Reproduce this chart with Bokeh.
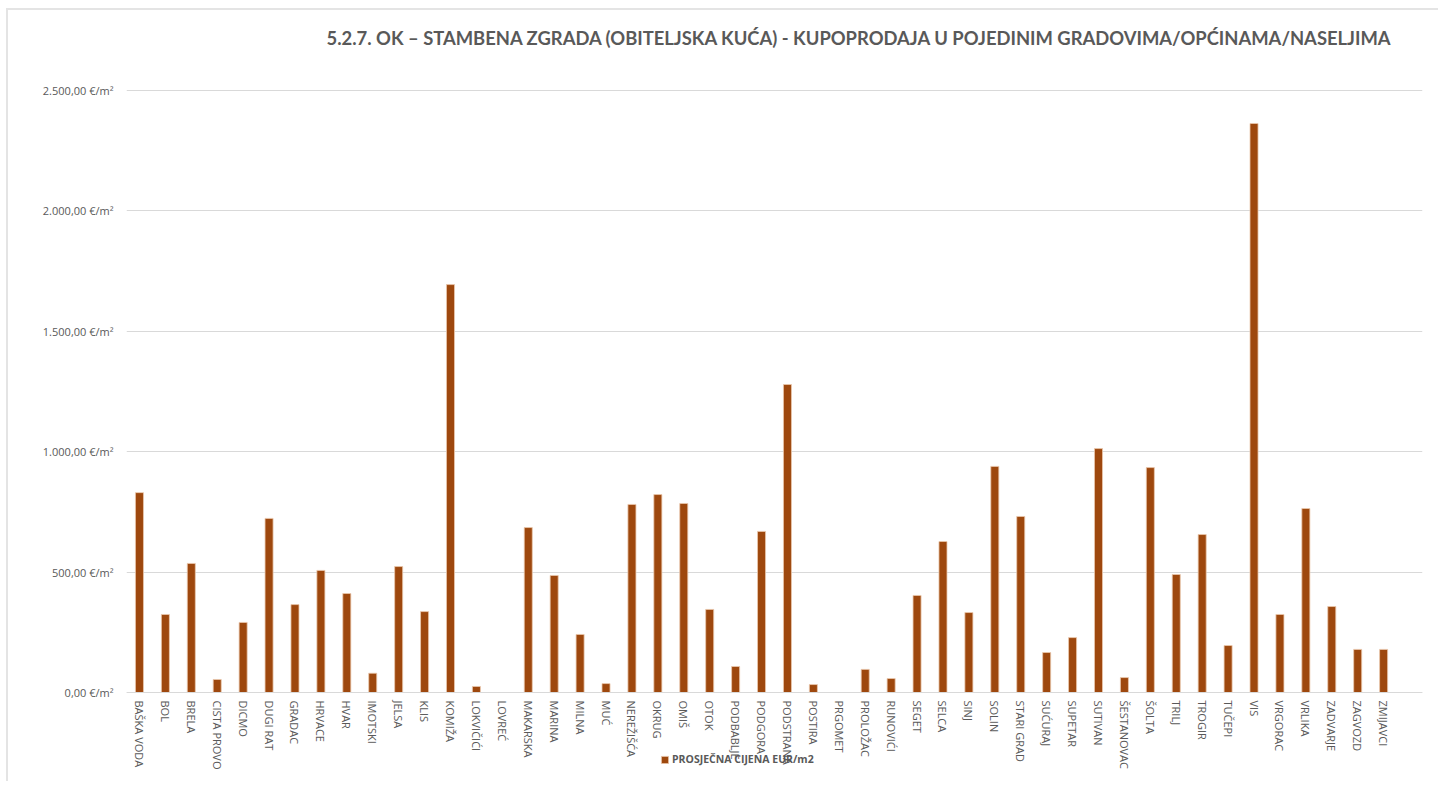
from bokeh.plotting import figure
from bokeh.models import ColumnDataSource, Range1d, FixedTicker, Legend, LegendItem, Label
from bokeh.embed import file_html
from bokeh.resources import INLINE

cities = ["BAŠKA VODA", "BOL", "BRELA", "CISTA PROVO", "DICMO", "DUGI RAT", "GRADAC", "HRVACE",
          "HVAR", "IMOTSKI", "JELSA", "KLIS", "KOMIŽA", "LOKVIČIĆI", "LOVREĆ", "MAKARSKA",
          "MARINA", "MILNA", "MUĆ", "NEREŽIŠĆA", "OKRUG", "OMIŠ", "OTOK", "PODBABLJE",
          "PODGORA", "PODSTRANA", "POSTIRA", "PRGOMET", "PROLOŽAC", "RUNOVIĆI", "SEGET",
          "SELCA", "SINJ", "SOLIN", "STARI GRAD", "SUĆURAJ", "SUPETAR", "SUTIVAN",
          "ŠESTANOVAC", "ŠOLTA", "TRILJ", "TROGIR", "TUČEPI", "VIS", "VRGORAC", "VRLIKA",
          "ZADVARJE", "ZAGVOZD", "ZMIJAVCI"]
prices = [830, 324, 536, 54, 291, 723, 365, 507,
          411, 80, 523, 336, 1694, 25, 0, 685,
          486, 241, 37, 781, 822, 785, 345, 108,
          669, 1279, 33, 0, 96, 58, 403,
          627, 332, 939, 731, 166, 228, 1013,
          62, 934, 490, 656, 195, 2363, 324, 764,
          357, 179, 179]
y_ticks = [0, 500, 1000, 1500, 2000, 2500]
y_tick_labels = ["0,00 €/m²", "500,00 €/m²", "1.000,00 €/m²", "1.500,00 €/m²",
                 "2.000,00 €/m²", "2.500,00 €/m²"]
title_text = "5.2.7. OK – STAMBENA ZGRADA (OBITELJSKA KUĆA) - KUPOPRODAJA U POJEDINIM GRADOVIMA/OPĆINAMA/NASELJIMA"
series_name = "PROSJEČNA CIJENA EUR/m2"

# the frame fills the whole canvas height so the title, category labels and legend sit inside it
axis_max = 2500
px_per_unit = 602 / axis_max
y_bottom = -91 / px_per_unit
y_top = axis_max + 80 / px_per_unit

xs = [i + 0.5 for i in range(len(cities))]
src = ColumnDataSource(dict(x=xs, top=prices, name=cities))

p = figure(width=1432, height=773, output_backend="svg", toolbar_location=None,
           x_range=Range1d(0, len(cities) + 1), y_range=Range1d(y_bottom, y_top),
           min_border_left=118, min_border_right=18, min_border_top=0, min_border_bottom=0,
           styles={"margin-left": "6px", "margin-top": "8px",
                   "border-left": "2px solid #E4E4E4", "border-top": "2px solid #E4E4E4"})

title = Label(x=200, y=746, x_units="screen", y_units="screen", text=title_text,
              text_font="Lato", text_font_size="18.4px", text_font_style="bold",
              text_color="#595959", text_baseline="middle", text_align="left")
p.add_layout(title)

r = p.vbar(x="x", top="top", width=0.31, source=src, fill_color="#9E480E",
           line_color="#EBC9AE", line_width=0.8)

p.xaxis.fixed_location = 0
p.xaxis.ticker = FixedTicker(ticks=xs)
p.xaxis.major_label_overrides = {x: c for x, c in zip(xs, cities)}
p.xaxis.major_label_orientation = "vertical"
p.xaxis.major_label_text_font = "Open Sans"
p.xaxis.major_label_text_font_size = "11px"
p.xaxis.major_label_text_color = "#595959"
p.xaxis.major_tick_line_color = None
p.xaxis.minor_tick_line_color = None
p.xaxis.axis_line_color = "#D9D9D9"
p.xaxis.major_label_standoff = 2

p.yaxis.ticker = FixedTicker(ticks=y_ticks)
p.yaxis.major_label_overrides = {t: l for t, l in zip(y_ticks, y_tick_labels)}
p.yaxis.major_label_text_font = "Open Sans"
p.yaxis.major_label_text_font_size = "11px"
p.yaxis.major_label_text_color = "#595959"
p.yaxis.major_tick_line_color = None
p.yaxis.minor_tick_line_color = None
p.yaxis.axis_line_color = None
p.yaxis.major_label_standoff = 7

p.xgrid.grid_line_color = None
p.ygrid.grid_line_color = "#D9D9D9"
p.ygrid.ticker = FixedTicker(ticks=y_ticks)
p.outline_line_color = None

legend = Legend(items=[LegendItem(label=series_name, renderers=[r])],
                location=(534, 17), orientation="horizontal",
                label_text_font="Open Sans", label_text_font_size="10.5px",
                label_text_font_style="bold", label_text_color="#595959",
                glyph_width=9, glyph_height=9, padding=0, margin=0, spacing=0,
                label_standoff=3, label_height=12, background_fill_alpha=0,
                border_line_color=None)
p.add_layout(legend, "center")

open("out.html", "w").write(file_html(p, INLINE))
